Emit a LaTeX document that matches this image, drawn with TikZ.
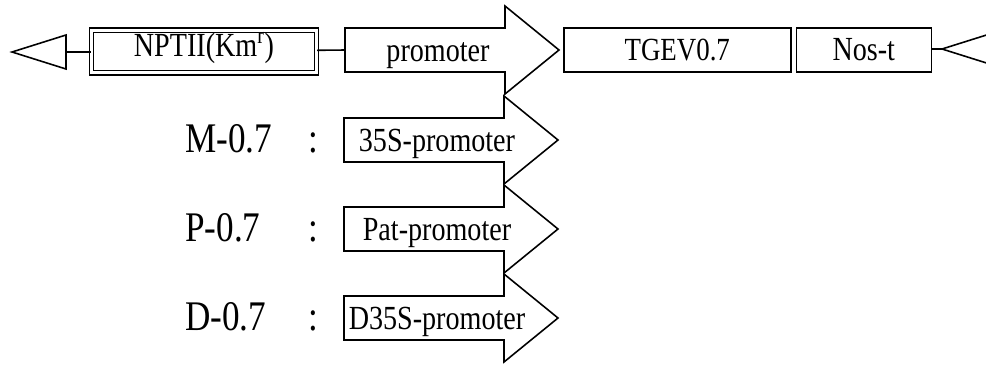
\documentclass[tikz,border=0pt]{standalone}
\usepackage{fontspec}
\usepackage{graphicx}
\setmainfont{Liberation Serif}
\usetikzlibrary{calc}
\usetikzlibrary{positioning}

\tikzset{
  dna/.style={line width=0.9pt},
  gene/.style={draw, rectangle, dna, minimum height=0.88cm, inner sep=0pt,
    text height=12pt, text depth=0.6pt, font=\fontsize{16}{19}\selectfont},
  marker/.style={gene, double, line width=0.7pt, double distance=1.8pt,
    text height=9pt, text depth=3pt},
  promtext/.style={inner sep=0pt, anchor=base, font=\fontsize{16}{19}\selectfont},
  construct/.style={inner sep=0pt, anchor=base, font=\fontsize{20}{24}\selectfont},
}

% the reference is a little taller than wide
\newcommand{\tall}[1]{\scalebox{1}[1.2]{#1}}

% outline of a promoter arrow round the centre of its body
\newcommand{\promarrow}[1]{%
  \draw [dna, shift={(#1)}] (-93,-22) -- (67,-22) -- (67,-44) -- (121,0)
    -- (67,44) -- (67,22) -- (-93,22) -- cycle;
}

\begin{document}
\begin{tikzpicture}[x=0.02cm, y=-0.02cm]
  \useasboundingbox (0,0) rectangle (986,365);

  \node [marker, minimum width=4.5cm, minimum height=0.85cm] (nptii) at (204,51.5) {\tall{NPTII(Km\textsuperscript{r})}};
  \coordinate (bodyprom) at (438,50);
  \node [promtext] (prom) at ($(bodyprom)+(0,11)$) {\tall{promoter}};
  \promarrow{bodyprom}
  \coordinate (promtail) at ($(bodyprom)+(-93,0)$);
  \coordinate (promtip) at ($(bodyprom)+(121,0)$);
  \node [gene, minimum width=4.54cm, font=\fontsize{15.3}{18}\selectfont, right=0.08cm of promtip] (tgev) {\tall{TGEV0.7}};
  \node [gene, minimum width=2.7cm, right=0.08cm of tgev] (nost) {\tall{Nos-t}};

  % border triangles
  \coordinate (lborder) at (66,52);
  \draw [dna] ($(lborder)+(0,-17)$) -- ($(lborder)+(-54,0)$) -- ($(lborder)+(0,17)$) -- cycle;
  \coordinate (rborder) at (942,49);
  \draw [dna] ($(rborder)+(54,-17)$) -- (rborder) -- ($(rborder)+(54,17)$);

  \draw [dna] (lborder) -- (lborder -| nptii.west);
  \draw [dna] (nptii) -- (promtail);
  \draw [dna] (rborder -| nost.east) -- (rborder);

  % constructs
  \foreach \tag/\prm/\y in {M/35S/140, P/Pat/229, D/D35S/318} {
    \coordinate (body\tag) at (437,\y);
    \node [construct, anchor=base west] (lab\tag) at (185,\y+12) {\tall{\tag-0.7}};
    \node [construct] (col\tag) at (313,\y+12) {\tall{:}};
    \node [promtext] (prom\tag) at ($(body\tag)+(0,11)$) {\tall{\prm-promoter}};
    \promarrow{body\tag}
  }
\end{tikzpicture}
\end{document}
